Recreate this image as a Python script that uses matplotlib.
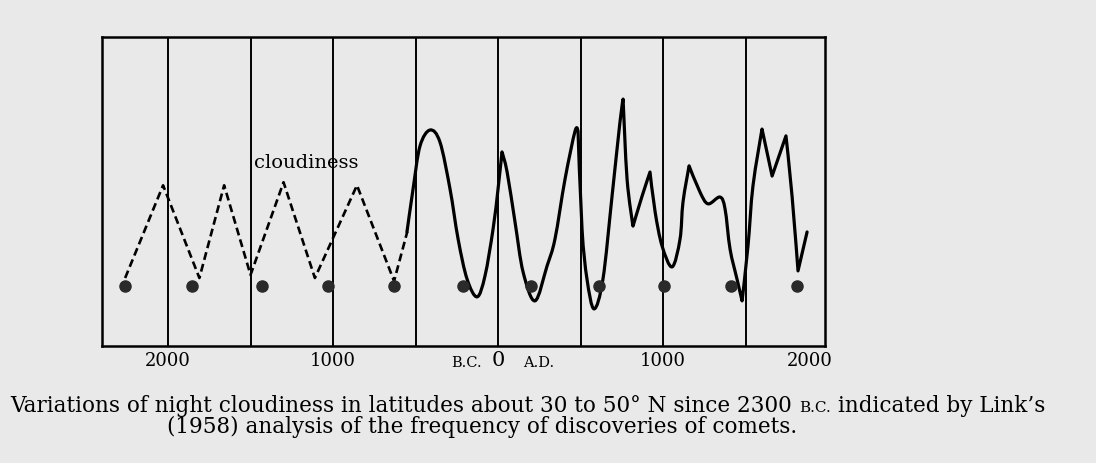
"""
Night cloudiness since 2300 B.C. from the frequency of comet discoveries
(after Link, 1958). Redrawn with Matplotlib.
"""

import numpy as np
import matplotlib.pyplot as plt
from matplotlib.path import Path
from matplotlib.patches import PathPatch

# dashed part of the curve (reconstructed, before ~550 B.C.)
dashed_years = [-2260, -2030, -1810, -1660, -1500, -1300, -1110, -855, -630, -550]
dashed_cloud = [22, 52, 22, 52, 23, 53, 22, 52, 21, 37]

# solid part of the curve
solid_years = [-552, -515, -473, -412, -352, -291, -242, -188, -127, -79,
               -30, 0, 24, 55, 103, 152, 224, 297, 345, 406,
               467, 485, 509, 539, 582, 636, 691, 739, 758, 782,
               818, 873, 921, 952, 994, 1055, 1103, 1121, 1158, 1224,
               1273, 1345, 1376, 1406, 1448, 1479, 1515, 1545, 1600, 1661,
               1745, 1782, 1818, 1873]
solid_cloud = [36.9, 50.8, 64.7, 69.9, 66.0, 50.8, 34.6, 21.7, 15.9, 22.7,
               37.9, 50.8, 62.8, 56.3, 40.1, 23.9, 14.6, 25.9, 34.6, 54.0,
               69.6, 69.3, 37.9, 21.7, 12.0, 21.7, 48.5, 72.5, 79.9, 54.0,
               38.8, 48.5, 56.3, 43.4, 32.4, 25.6, 34.6, 46.6, 58.3, 49.8,
               46.0, 48.2, 44.3, 31.4, 21.7, 14.6, 32.4, 51.8, 70.2, 55.0,
               68.0, 48.5, 24.3, 36.9]
# points where the drawn curve has a sharp kink
corner_years = [24, 485, 758, 818, 921, 1158, 1479, 1600, 1661, 1745, 1818]

# the row of dots near the bottom
dot_years = [-2261, -1855, -1430, -1030, -630, -212, 200, 612, 1006, 1412, 1812]
dot_level = 19.4

grid_years = [-2000, -1500, -1000, -500, 0, 500, 1000, 1500]
tick_years = [-2000, -1000, 1000, 1890]
tick_labels = ["2000", "1000", "1000", "2000"]

caption_1a = ("Variations of night cloudiness in latitudes about 30 to 50\u00b0 N "
              "since 2300")
caption_1b = "B.C."
caption_1c = "indicated by Link\u2019s"
caption_2 = "(1958) analysis of the frequency of discoveries of comets."

paper = "#e9e9e9"
serif = ["DejaVu Serif"]


def smooth_path(xs, ys, corners):
    """Catmull-Rom style Bezier path through the points, kinked at corners."""
    pts = np.column_stack([xs, ys]).astype(float)
    n = len(pts)
    verts = [pts[0]]
    codes = [Path.MOVETO]
    for i in range(n - 1):
        p0 = pts[i - 1] if i > 0 else pts[i]
        p1 = pts[i]
        p2 = pts[i + 1]
        p3 = pts[i + 2] if i + 2 < n else pts[i + 1]
        c1 = p1 if i in corners else p1 + (p2 - p0) / 6
        c2 = p2 if (i + 1) in corners else p2 - (p3 - p1) / 6
        verts += [c1, c2, p2]
        codes += [Path.CURVE4] * 3
    return Path(verts, codes)


fig = plt.figure(figsize=(10.96, 4.64), dpi=100, facecolor=paper)
ax = fig.add_axes([0.0931, 0.2522, 0.6597, 0.6659], facecolor=paper)

for yr in grid_years:
    ax.axvline(yr, color="black", lw=1.4, zorder=1)

ax.plot(dashed_years, dashed_cloud, color="black", lw=1.9,
        linestyle=(0, (3.0, 1.6)), zorder=3)

corner_idx = {solid_years.index(y) for y in corner_years}
curve = smooth_path(solid_years, solid_cloud, corner_idx)
ax.add_patch(PathPatch(curve, fill=False, edgecolor="black", lw=2.3,
                       joinstyle="round", capstyle="round", zorder=3))

ax.plot(dot_years, [dot_level] * len(dot_years), "o", color="#2a2a2a",
        markersize=8, zorder=4)

ax.text(-1480, 59.5, "cloudiness", fontsize=14, family=serif,
        ha="left", va="center")

ax.set_xlim(-2400, 1982)
ax.set_ylim(0, 100)
ax.set_xticks([])
ax.set_yticks([])
for spine in ax.spines.values():
    spine.set_linewidth(1.8)

# year labels under the box
trans = ax.get_xaxis_transform()
for yr, lab in zip(tick_years, tick_labels):
    ax.text(yr, -0.015, lab, transform=trans, fontsize=13, family=serif,
            ha="center", va="top")
ax.text(0, -0.012, "0", transform=trans, fontsize=15, family=serif,
        ha="center", va="top")
ax.text(-100, -0.03, "B.C.", transform=trans, fontsize=10.5, family=serif,
        ha="right", va="top")
ax.text(150, -0.03, "A.D.", transform=trans, fontsize=10.5, family=serif,
        ha="left", va="top")

# caption, with B.C. set smaller like small capitals
W, H = fig.bbox.width, fig.bbox.height
renderer = fig.canvas.get_renderer()
gap = 7
x = 10
for s, size in [(caption_1a, 15.5), (caption_1b, 11), (caption_1c, 15.5)]:
    t = fig.text(x / W, 52 / H, s, fontsize=size, family=serif,
                 ha="left", va="baseline")
    x = t.get_window_extent(renderer).x1 + gap
fig.text(167 / W, 31 / H, caption_2, fontsize=15.5, family=serif,
         ha="left", va="baseline")

fig.savefig("out.png", dpi=100, facecolor=paper)
